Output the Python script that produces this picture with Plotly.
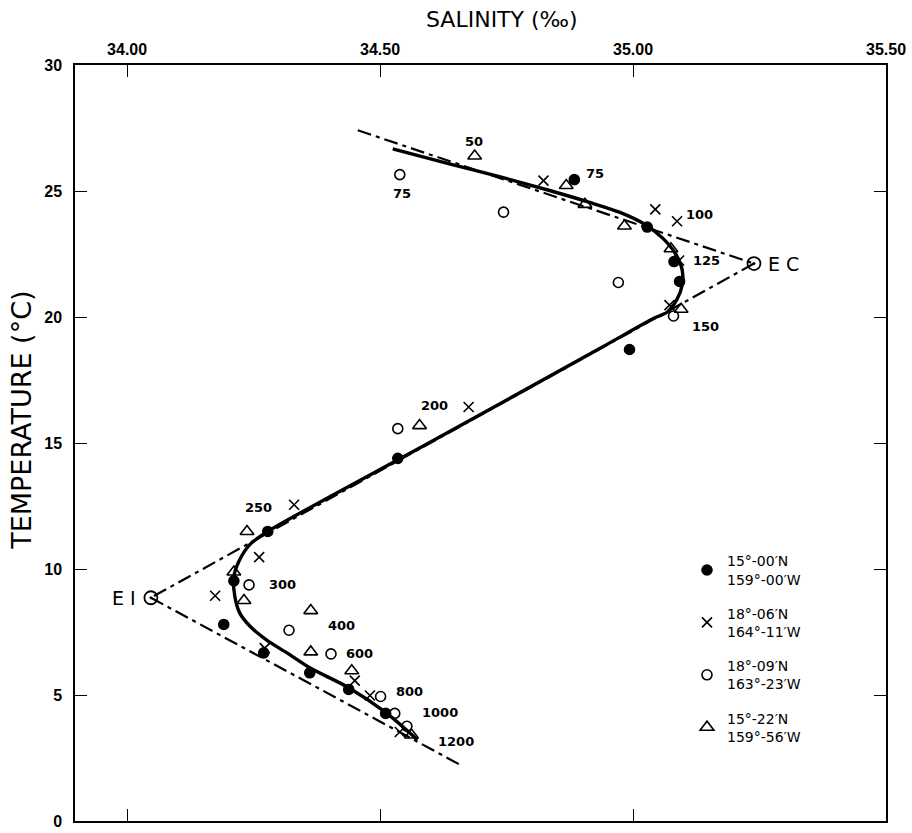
import plotly.graph_objects as go

# ---- station data (salinity ‰, temperature °C) ----
st1_name = "15°-00′N<br>159°-00′W"
st1_sal = [34.884, 35.028, 35.081, 35.092, 34.993, 34.535, 34.278, 34.211, 34.191, 34.270, 34.361, 34.438, 34.511]
st1_tem = [25.45, 23.57, 22.20, 21.41, 18.71, 14.39, 11.49, 9.53, 7.80, 6.67, 5.88, 5.22, 4.27]

st2_name = "18°-06′N<br>164°-11′W"
st2_sal = [34.823, 35.044, 35.087, 35.091, 35.072, 34.675, 34.330, 34.261, 34.174, 34.272, 34.450, 34.480, 34.539]
st2_tem = [25.41, 24.27, 23.80, 22.24, 20.47, 16.43, 12.55, 10.47, 8.94, 6.86, 5.57, 4.98, 3.53]

st3_name = "18°-09′N<br>163°-23′W"
st3_sal = [34.539, 34.744, 34.971, 35.080, 34.535, 34.241, 34.320, 34.403, 34.501, 34.529, 34.553]
st3_tem = [25.65, 24.16, 21.37, 20.04, 15.57, 9.37, 7.57, 6.63, 4.94, 4.27, 3.76]

st4_name = "15°-22′N<br>159°-56′W"
st4_sal = [34.687, 34.868, 34.905, 34.983, 35.075, 35.095, 34.578, 34.237, 34.211, 34.231, 34.363, 34.363, 34.444, 34.562]
st4_tem = [26.39, 25.22, 24.47, 23.61, 22.71, 20.31, 15.69, 11.49, 9.88, 8.75, 8.35, 6.71, 5.96, 3.41]

# ---- fitted T-S curve ----
curve_sal = [34.525, 34.637, 34.736, 34.835, 34.914, 34.973, 35.022, 35.058, 35.084, 35.097, 35.097, 35.087,
             35.068, 35.042, 34.934, 34.598, 34.278, 34.243, 34.221, 34.211, 34.213, 34.223, 34.243, 34.276,
             34.316, 34.361, 34.438, 34.511, 34.574]
curve_tem = [26.67, 26.08, 25.57, 25.02, 24.55, 24.16, 23.69, 23.14, 22.51, 21.88, 21.25, 20.71,
             20.20, 19.96, 18.75, 15.02, 11.49, 10.98, 10.31, 9.69, 8.90, 8.24, 7.73, 7.18,
             6.67, 6.08, 5.29, 4.31, 3.22]

# ---- water-mass end points and mixing lines ----
end_names = ["E C", "E I"]
end_sal = [35.239, 34.047]
end_tem = [22.12, 8.86]
mix_upper_sal = [34.456, 35.239]
mix_upper_tem = [27.41, 22.12]
mix_mid_sal = [35.239, 34.047]
mix_mid_tem = [22.12, 8.86]
mix_lower_sal = [34.047, 34.661]
mix_lower_tem = [8.86, 2.20]

# ---- depth labels (m) ----
depth_text = ["50", "75", "75", "100", "125", "150", "200", "250", "300", "400", "600", "800", "1000", "1200"]
depth_sal = [34.685, 34.543, 34.925, 35.131, 35.146, 35.144, 34.608, 34.259, 34.308, 34.424, 34.460, 34.559, 34.618, 34.650]
depth_tem = [26.98, 24.90, 25.69, 24.08, 22.24, 19.61, 16.47, 12.43, 9.37, 7.76, 6.63, 5.14, 4.31, 3.15]

# ---- axes ----
x_ticks = [34.0, 34.5, 35.0, 35.5]
x_ticktext = ["34.00", "34.50", "35.00", "35.50"]
y_ticks = [0, 5, 10, 15, 20, 25, 30]

W, H = 912, 833
ml, mr, mt, mb = 75, 26, 65, 3
pw, ph = W - ml - mr, H - mt - mb

fig = go.Figure()

dashdot = "14px,5px,4px,5px"
for xs, ys in [(mix_upper_sal, mix_upper_tem), (mix_mid_sal, mix_mid_tem), (mix_lower_sal, mix_lower_tem)]:
    fig.add_trace(go.Scatter(x=xs, y=ys, mode="lines", showlegend=False, hoverinfo="skip",
                             line=dict(color="black", width=2.2, dash=dashdot)))

fig.add_trace(go.Scatter(x=curve_sal, y=curve_tem, mode="lines", showlegend=False, hoverinfo="skip",
                         line=dict(color="black", width=3.4, shape="spline", smoothing=0.8)))

stations = [
    (st1_name, st1_sal, st1_tem, "circle", 10),
    (st2_name, st2_sal, st2_tem, "x-thin-open", 10),
    (st3_name, st3_sal, st3_tem, "circle-open", 10),
    (st4_name, st4_sal, st4_tem, "triangle-up-open", 12),
]
for i, (nm, xs, ys, sym, sz) in enumerate(stations):
    fig.add_trace(go.Scatter(x=xs, y=ys, mode="markers", name=nm, legendgroup=str(i),
                             marker=dict(symbol=sym, size=sz, color="black",
                                         line=dict(color="black", width=1.6))))

fig.add_trace(go.Scatter(x=end_sal, y=end_tem, mode="markers", showlegend=False,
                         marker=dict(symbol="circle-open-dot", size=13, color="black",
                                     line=dict(color="black", width=1.8))))

lab_font = dict(family="DejaVu Sans", size=13, color="black", weight="bold")
annotations = []
for t, xs, ys in zip(depth_text, depth_sal, depth_tem):
    annotations.append(dict(x=xs, y=ys, text=t, showarrow=False, xref="x", yref="y", font=lab_font))
annotations.append(dict(x=end_sal[0], y=end_tem[0], text=end_names[0], showarrow=False, xanchor="left",
                        xshift=12, font=dict(family="DejaVu Sans", size=19, color="black")))
annotations.append(dict(x=end_sal[1], y=end_tem[1], text=end_names[1], showarrow=False, xanchor="right",
                        xshift=-13, font=dict(family="DejaVu Sans", size=19, color="black")))
annotations.append(dict(x=(502 - ml) / pw, y=(H - mb - 19) / ph, xref="paper", yref="paper",
                        text="SALINITY (‰)", showarrow=False, xanchor="center", yanchor="middle",
                        font=dict(family="DejaVu Sans", size=22, color="black")))
annotations.append(dict(x=(22 - ml) / pw, y=(H - mb - 425) / ph, xref="paper", yref="paper",
                        text="TEMPERATURE (°C)", showarrow=False, xanchor="center", yanchor="middle",
                        textangle=-90, font=dict(family="DejaVu Sans", size=27, color="black")))

axis_common = dict(showgrid=False, zeroline=False, showline=True, linecolor="black", linewidth=1.5,
                   mirror="ticks", ticks="inside", ticklen=12, tickwidth=1.3, tickcolor="black",
                   ticklabeloverflow="allow")
tick_font = dict(family="Liberation Sans", size=16, color="black", weight="bold")

fig.update_layout(
    width=W, height=H,
    margin=dict(l=ml, r=mr, t=mt, b=mb),
    paper_bgcolor="white", plot_bgcolor="white",
    xaxis=dict(range=[33.897, 35.5], side="top", tickvals=x_ticks, ticktext=x_ticktext,
               tickfont=tick_font, ticklabelstandoff=2, **axis_common),
    yaxis=dict(range=[0, 30], tickvals=y_ticks, tickfont=tick_font, ticklabelstandoff=8, **axis_common),
    legend=dict(x=(687 - ml) / pw, xanchor="left", y=(H - mb - 551) / ph, yanchor="top",
                bgcolor="rgba(0,0,0,0)", tracegroupgap=13, traceorder="grouped",
                font=dict(family="DejaVu Sans", size=14, color="black")),
    annotations=annotations,
    showlegend=True,
)

# the page's default body margin would shift the figure; remove it
fig.write_html("out.html", config={"displayModeBar": False},
               post_script="document.body.style.margin='0px';")
